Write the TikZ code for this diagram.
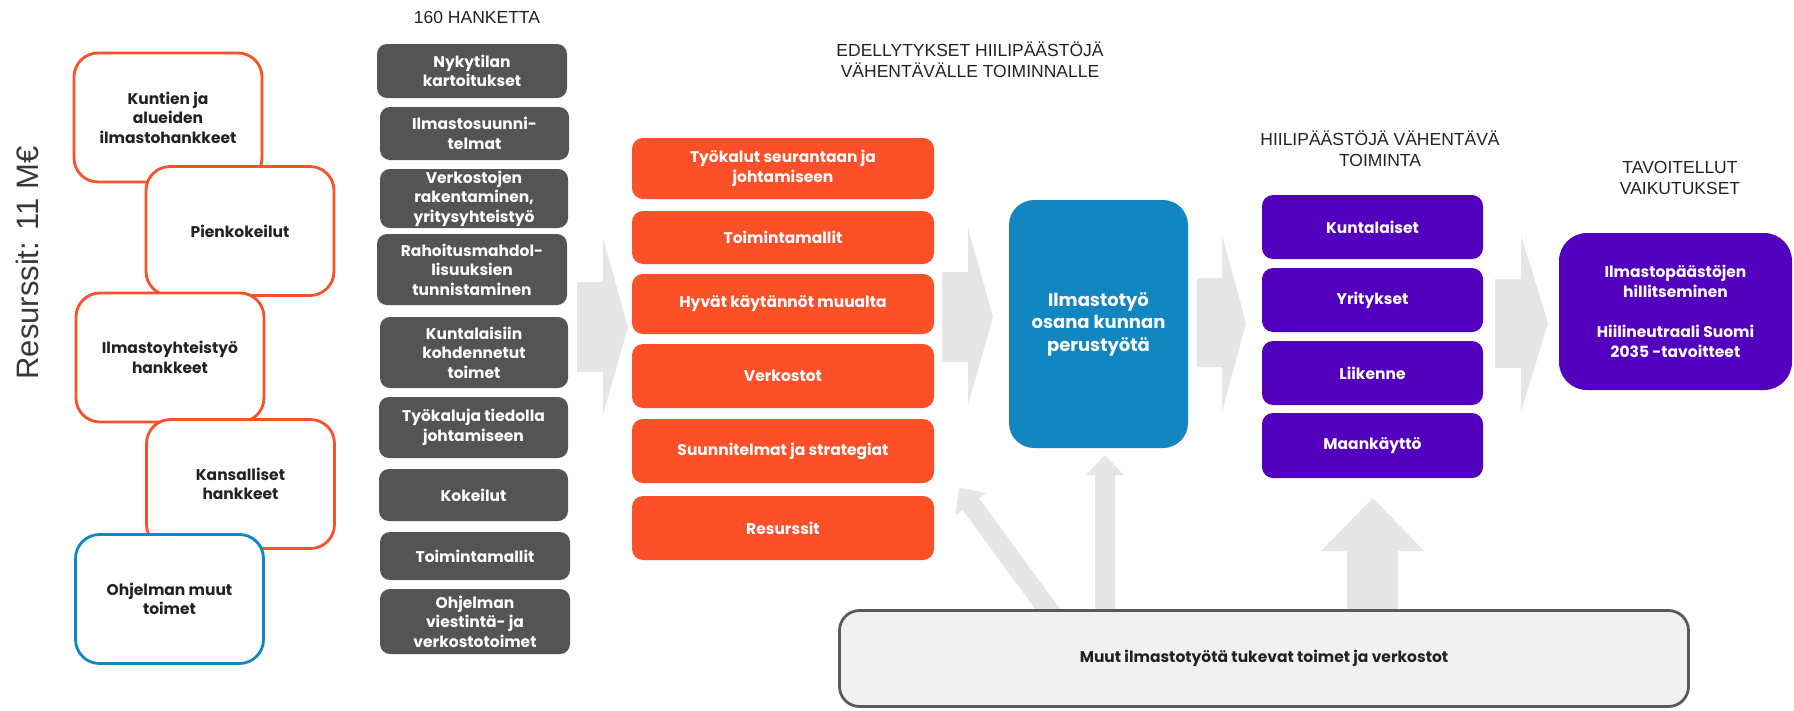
\documentclass[tikz,border=0pt]{standalone}
\usepackage{fontspec}
\setmainfont{Poppins}
\newfontfamily\hdrfont{Liberation Sans}
\definecolor{org}{RGB}{252,80,40}
\definecolor{blu}{RGB}{17,134,193}
\definecolor{pur}{RGB}{82,0,190}
\definecolor{dgr}{RGB}{84,84,84}
\definecolor{lgr}{RGB}{230,230,230}
\definecolor{bgr}{RGB}{241,241,241}
\definecolor{bdr}{RGB}{90,90,90}
\definecolor{txt}{RGB}{34,34,34}
\begin{document}
\begin{tikzpicture}[x=1pt,y=-1pt,
  every node/.style={inner sep=0pt, outer sep=0pt, align=center},
  bx/.style={font=\fontsize{15.5}{19.5}\selectfont\bfseries},
  outl/.style={bx, draw, line width=2.8pt, fill=white, rounded corners=24pt, minimum width=188pt, minimum height=129pt, text=txt},
  gbox/.style={bx, fill=dgr, rounded corners=10pt, text=white},
  obox/.style={bx, fill=org, rounded corners=11pt, text=white, minimum width=302pt},
  pbox/.style={bx, fill=pur, rounded corners=11pt, text=white, minimum width=221pt},
  hdr/.style={font=\hdrfont\fontsize{17.5}{21}\selectfont, text=txt},
  blk/.style={fill=lgr, draw=none}
]
\useasboundingbox (0,0) rectangle (1794,710);

% side label
\node[font=\hdrfont\fontsize{31}{31}\selectfont, text=txt!90, rotate=90] (res) at (27,263) {Resurssit: 11 M€};

% left outlined boxes
\node[outl, draw=org] (b1) at (168,117.5) {Kuntien ja\\alueiden\\ilmastohankkeet};
\node[outl, draw=org] (b2) at (240,231) {Pienkokeilut};
\node[outl, draw=org] (b3) at (170,357.5) {Ilmastoyhteistyö\\hankkeet};
\node[outl, draw=org] (b4) at (240.5,484) {Kansalliset\\hankkeet};
\node[outl, draw=blu] (b5) at (169.5,599) {Ohjelman muut\\toimet};

% headers
\node[hdr] (h1) at (477,17) {160 HANKETTA};
\node[hdr] (h2) at (970,60) {EDELLYTYKSET HIILIPÄÄSTÖJÄ\\VÄHENTÄVÄLLE TOIMINNALLE};
\node[hdr] (h3) at (1380,149) {HIILIPÄÄSTÖJÄ VÄHENTÄVÄ\\TOIMINTA};
\node[hdr] (h4) at (1680,177.5) {TAVOITELLUT\\VAIKUTUKSET};

% big block arrows
\fill[blk] (577,282) -- (603,282) -- (603,238) -- (628,327) -- (603,415) -- (603,372) -- (577,372) -- cycle;
\fill[blk] (942,272) -- (968,272) -- (968,228) -- (993,317) -- (968,405) -- (968,362) -- (942,362) -- cycle;
\fill[blk] (1197,278) -- (1222,278) -- (1222,235) -- (1246,323) -- (1222,412) -- (1222,367) -- (1197,367) -- cycle;
\fill[blk] (1495,279) -- (1521,279) -- (1521,235) -- (1548,323) -- (1521,412) -- (1521,368) -- (1495,368) -- cycle;

% gray column
\node[gbox, minimum width=190pt, minimum height=54pt] (g1) at (472,71) {Nykytilan\\kartoitukset};
\node[gbox, minimum width=189pt, minimum height=53pt] (g2) at (474.5,133.5) {Ilmastosuunni-\\telmat};
\node[gbox, minimum width=188pt, minimum height=59pt] (g3) at (474,198.5) {Verkostojen\\rakentaminen,\\yritysyhteistyö};
\node[gbox, minimum width=190pt, minimum height=71pt] (g4) at (472,269.5) {Rahoitusmahdol-\\lisuuksien\\tunnistaminen};
\node[gbox, minimum width=188pt, minimum height=71pt] (g5) at (474,352.5) {Kuntalaisiin\\kohdennetut\\toimet};
\node[gbox, minimum width=189pt, minimum height=61pt] (g6) at (473.5,427.5) {Työkaluja tiedolla\\johtamiseen};
\node[gbox, minimum width=189pt, minimum height=52pt] (g7) at (473.5,495) {Kokeilut};
\node[gbox, minimum width=190pt, minimum height=48pt] (g8) at (475,556) {Toimintamallit};
\node[gbox, minimum width=190pt, minimum height=65pt] (g9) at (475,621.5) {Ohjelman\\viestintä- ja\\verkostotoimet};

% orange column
\node[obox, minimum height=61pt] (o1) at (783,168.5) {Työkalut seurantaan ja\\johtamiseen};
\node[obox, minimum height=53pt] (o2) at (783,237.5) {Toimintamallit};
\node[obox, minimum height=60pt] (o3) at (783,304) {Hyvät käytännöt muualta};
\node[obox, minimum height=64pt] (o4) at (783,376) {Verkostot};
\node[obox, minimum height=64pt] (o5) at (783,451) {Suunnitelmat ja strategiat};
\node[obox, minimum height=64pt] (o6) at (783,528) {Resurssit};

% blue box
\node[fill=blu, rounded corners=25pt, minimum width=179pt, minimum height=248pt, text=white,
      font=\fontsize{18}{22.5}\selectfont\bfseries] (blue) at (1098.5,324) {Ilmastotyö\\osana kunnan\\perustyötä};

% purple column
\node[pbox, minimum height=64pt] (p1) at (1372.5,227) {Kuntalaiset};
\node[pbox, minimum height=64pt] (p2) at (1372.5,300) {Yritykset};
\node[pbox, minimum height=64pt] (p3) at (1372.5,373) {Liikenne};
\node[pbox, minimum height=65pt] (p4) at (1372.5,445.5) {Maankäyttö};

% final box
\node[bx, fill=pur, rounded corners=28pt, minimum width=233pt, minimum height=157pt, text=white] (fin) at (1675.5,311.5)
  {Ilmastopäästöjen\\hillitseminen\\[21pt]Hiilineutraali Suomi\\2035 -tavoitteet};

% arrows from bottom box
\fill[blk] (1095,615) -- (1095,475) -- (1086,475) -- (1105,455) -- (1124,475) -- (1115,475) -- (1115,615) -- cycle;
\fill[blk] (1347,615) -- (1347,551) -- (1321,551) -- (1373,498) -- (1424,551) -- (1398,551) -- (1398,615) -- cycle;
\fill[blk] (1048.3,627.0) -- (962.7,510.0) -- (955.5,515.3) -- (959,488) -- (986.1,492.9) -- (978.9,498.2) -- (1064.5,615.2) -- cycle;

% bottom box
\node[bx, draw=bdr, line width=2.8pt, fill=bgr, rounded corners=20pt, minimum width=849pt, minimum height=96pt, text=txt] (bot) at (1264,658.5)
  {Muut ilmastotyötä tukevat toimet ja verkostot};
\end{tikzpicture}
\end{document}
